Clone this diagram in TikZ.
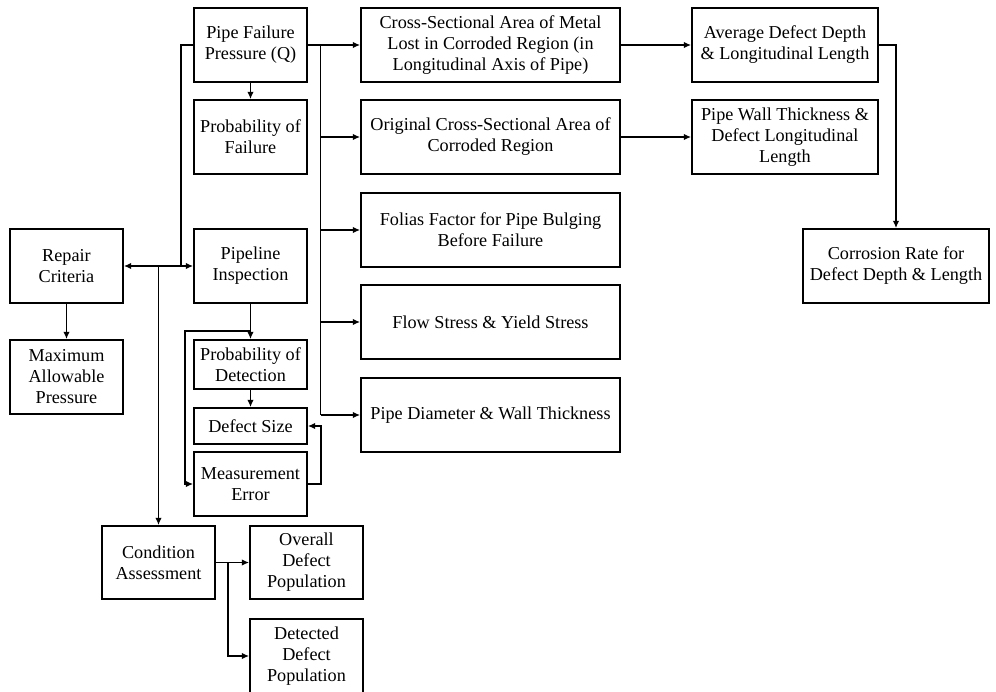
\documentclass[tikz,border=0pt]{standalone}
\usepackage{fontspec}
\setmainfont{Liberation Serif}
\usetikzlibrary{arrows.meta}
\begin{document}
\begin{tikzpicture}[x=0.5pt,y=-0.5pt,
  box/.style={draw, line width=0.9pt, align=center, inner sep=0pt,
    font=\fontsize{9.1pt}{10.5pt}\selectfont, minimum height=37pt},
  narrow/.style={box, minimum width=56.5pt},
  wide/.style={box, minimum width=129.5pt},
  mid/.style={box, minimum width=93pt},
  link/.style={line width=0.7pt},
  arr/.style={link, -{Latex[length=3.6pt,width=3.2pt]}}]
\useasboundingbox (0,0) rectangle (996,691);

% left and centre columns
\node[narrow] (pf)  at (250.5,45)  {Pipe Failure\\Pressure (Q)};
\node[narrow] (pof) at (250.5,137) {Probability of\\Failure};
\node[narrow] (pi)  at (250.5,266) {Pipeline\\Inspection};
\node[narrow] (rc)  at (66.5,266)  {Repair\\Criteria};
\node[narrow] (map) at (66.5,377)  {Maximum\\Allowable\\Pressure};
\node[narrow, minimum height=24.5pt] (pod) at (250.5,364.5) {Probability of\\Detection};
\node[narrow, minimum height=18pt]   (ds)  at (250.5,426)   {Defect Size};
\node[narrow, minimum height=32pt]   (me)  at (250.5,484)   {Measurement\\Error};
\node[narrow, minimum height=36.5pt] (ca)  at (158.5,562.5) {Condition\\Assessment};
\node[narrow, minimum height=36.5pt] (odp) at (306.5,562.5) {Overall\\Defect\\Population};
\node[narrow] (ddp) at (306.5,656) {Detected\\Defect\\Population};

% parameter column
\node[wide] (cs) at (490.5,45)  {Cross-Sectional Area of Metal\\Lost in Corroded Region (in\\Longitudinal Axis of Pipe)};
\node[wide] (oc) at (490.5,137) {Original Cross-Sectional Area of\\Corroded Region};
\node[wide] (ff) at (490.5,230) {Folias Factor for Pipe Bulging\\Before Failure};
\node[wide] (fs) at (490.5,322) {Flow Stress \& Yield Stress};
\node[wide] (pd) at (490.5,415) {Pipe Diameter \& Wall Thickness};

% right column
\node[mid] (ad) at (785,45)  {Average Defect Depth\\\& Longitudinal Length};
\node[mid] (pw) at (785,137) {Pipe Wall Thickness \&\\Defect Longitudinal\\Length};
\node[mid] (cr) at (896,266) {Corrosion Rate for\\Defect Depth \& Length};

% trunk feeding the parameter column
\coordinate (tr) at (320.7,45);
\draw[arr] (pf.east) -- (cs.west);
\draw[link] (tr) -- (320.7,415);
\foreach \t in {oc,ff,fs,pd}
  \draw[arr] (tr |- \t.west) -- (\t.west);

\draw[arr] (pf) -- (pof);
\draw[arr] (cs) -- (ad);
\draw[arr] (oc) -- (pw);
\draw[arr] (ad.east) -| (cr.north);

% repair / inspection branch
\coordinate (jn) at (158.5,266);
\draw[link] (pf.west) -| (181,266);
\draw[link, {Latex[length=3.6pt,width=3.2pt]}-{Latex[length=3.6pt,width=3.2pt]}] (rc.east) -- (pi.west);
\draw[arr] (jn) -- (ca.north);
\draw[arr] (rc) -- (map);

% inspection chain
\coordinate (br) at (250.5,331);
\draw[arr] (pi) -- (pod);
\draw[arr] (br) -- (185,331) |- (me.west);
\draw[arr] (pod) -- (ds);
\draw[arr] (me.east) -- (321,484) |- (ds.east);

% condition assessment outputs
\coordinate (ct) at (228,562.5);
\draw[arr] (ca.east) -- (odp.west);
\draw[arr] (ct) |- (ddp.west);
\end{tikzpicture}
\end{document}
